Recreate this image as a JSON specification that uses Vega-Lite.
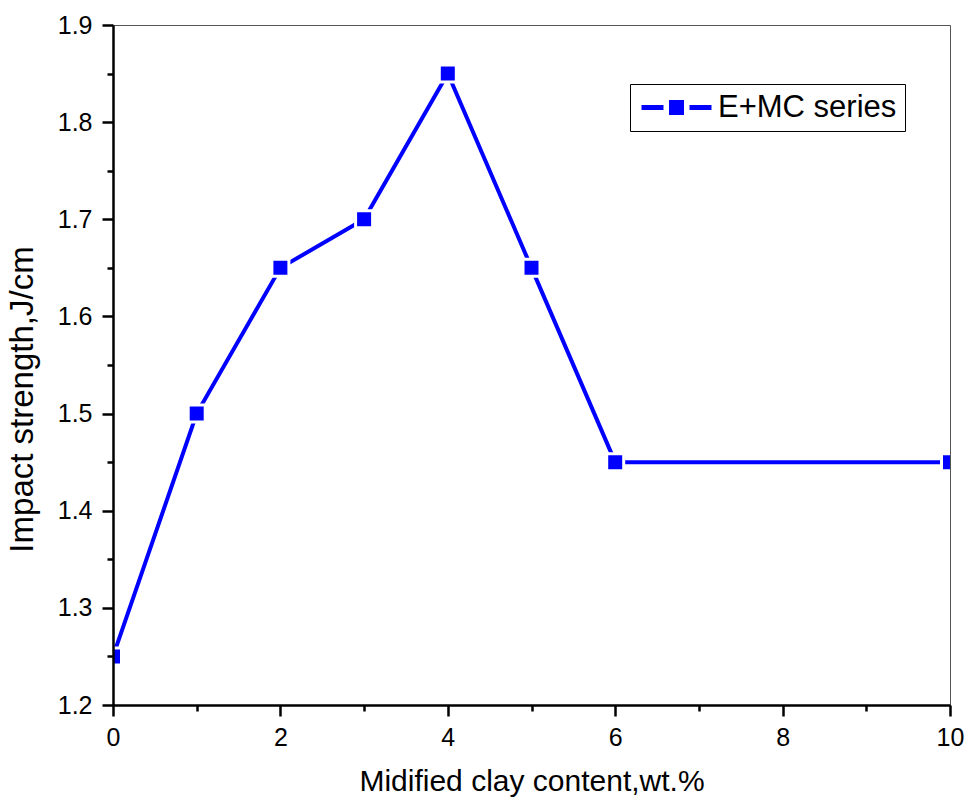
{
  "$schema": "https://vega.github.io/schema/vega-lite/v6.json",
  "width": 837,
  "height": 680,
  "autosize": {"type": "none"},
  "padding": {"left": 113, "top": 25, "right": 15, "bottom": 94},
  "background": "white",
  "config": {
    "font": "Liberation Sans",
    "view": {"stroke": "#555555", "strokeWidth": 1}
  },
  "data": {
    "values": [
      {"content": 0, "impact": 1.25, "series": "E+MC series"},
      {"content": 1, "impact": 1.5, "series": "E+MC series"},
      {"content": 2, "impact": 1.65, "series": "E+MC series"},
      {"content": 3, "impact": 1.7, "series": "E+MC series"},
      {"content": 4, "impact": 1.85, "series": "E+MC series"},
      {"content": 5, "impact": 1.65, "series": "E+MC series"},
      {"content": 6, "impact": 1.45, "series": "E+MC series"},
      {"content": 10, "impact": 1.45, "series": "E+MC series"}
    ]
  },
  "encoding": {
    "x": {
      "field": "content",
      "type": "quantitative",
      "scale": {"domain": [0, 10], "nice": false, "zero": false},
      "axis": {
        "values": [0, 1, 2, 3, 4, 5, 6, 7, 8, 9, 10],
        "labelExpr": "datum.value % 2 === 0 ? datum.label : ''",
        "tickSize": {"condition": {"test": "datum.value % 2 === 0", "value": 11}, "value": 6},
        "grid": false,
        "domainColor": "black",
        "domainWidth": 2.5,
        "tickColor": "black",
        "tickWidth": 2.5,
        "labelFontSize": 25,
        "labelColor": "black",
        "labelPadding": 9,
        "labelFlush": false,
        "title": "Midified clay content,wt.%",
        "titleFontSize": 30,
        "titleFontWeight": "normal",
        "titleColor": "black",
        "titleBaseline": "alphabetic",
        "titleY": 85,
        "zindex": 1
      }
    },
    "y": {
      "field": "impact",
      "type": "quantitative",
      "scale": {"domain": [1.2, 1.9], "nice": false, "zero": false},
      "axis": {
        "values": [1.2, 1.25, 1.3, 1.35, 1.4, 1.45, 1.5, 1.55, 1.6, 1.65, 1.7, 1.75, 1.8, 1.85, 1.9],
        "labelExpr": "abs(datum.value * 10 - round(datum.value * 10)) < 0.001 ? format(datum.value, '.1f') : ''",
        "tickSize": {"condition": {"test": "abs(datum.value * 10 - round(datum.value * 10)) < 0.001", "value": 11}, "value": 6},
        "grid": false,
        "domainColor": "black",
        "domainWidth": 2.5,
        "tickColor": "black",
        "tickWidth": 2.5,
        "labelFontSize": 25,
        "labelColor": "black",
        "labelPadding": 10,
        "labelFlush": false,
        "title": "Impact strength,J/cm",
        "titleFontSize": 33,
        "titleFontWeight": "normal",
        "titleColor": "black",
        "titleBaseline": "alphabetic",
        "titleX": -81,
        "titleY": 374,
        "zindex": 1
      }
    }
  },
  "layer": [
    {
      "mark": {"type": "line", "color": "#0000ff", "strokeWidth": 4, "clip": true}
    },
    {
      "mark": {
        "type": "point",
        "shape": "square",
        "filled": true,
        "size": 289,
        "opacity": 1,
        "stroke": "white",
        "strokeWidth": 3,
        "clip": true
      },
      "encoding": {
        "color": {
          "field": "series",
          "type": "nominal",
          "scale": {"range": ["#0000ff"]},
          "legend": {
            "title": null,
            "orient": "none",
            "legendX": 517,
            "legendY": 59,
            "padding": 8,
            "strokeColor": "black",
            "fillColor": "white",
            "symbolType": "M-1.714,-0.357H1.429V0.357H-1.714Z M2.214,-1.07H4.357V1.07H2.214Z M5.143,-0.357H8.286V0.357H5.143Z",
            "symbolSize": 196,
            "symbolStrokeWidth": 0,
            "symbolFillColor": "#0000ff",
            "symbolOpacity": 1,
            "labelFontSize": 31,
            "labelColor": "black",
            "labelOffset": 49,
            "labelLimit": 400
          }
        }
      }
    }
  ]
}
